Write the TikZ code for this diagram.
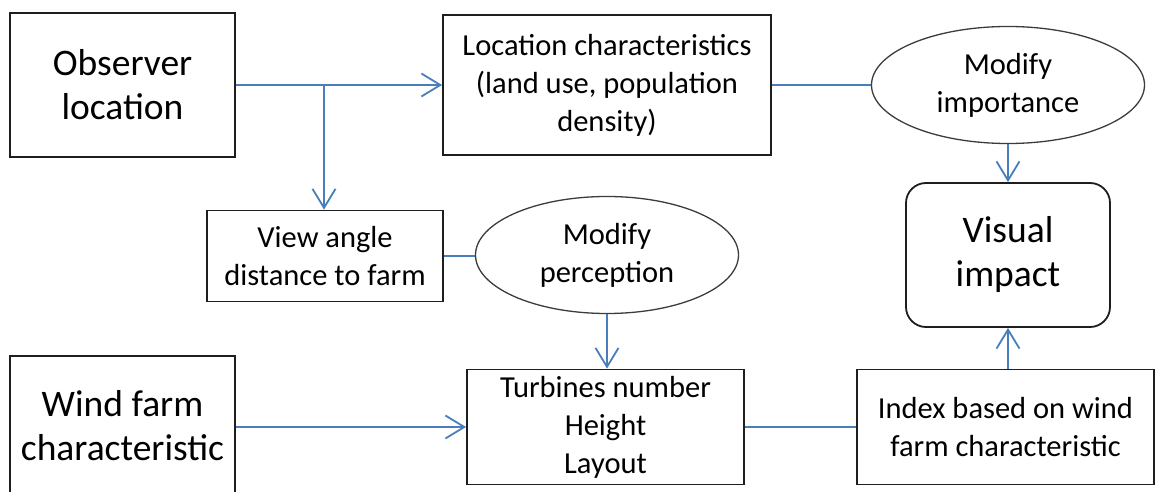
\documentclass[tikz,border=0pt]{standalone}
\usepackage{fontspec}
\setmainfont{Carlito}
\usetikzlibrary{arrows.meta,shapes.geometric}
\definecolor{linkblue}{HTML}{4A7EBB}
\definecolor{boxline}{HTML}{1E1E1E}
\definecolor{ovalline}{HTML}{3C3C3C}
\tikzset{
  bigtext/.style={font=\fontsize{37.5}{44}\selectfont},
  midtext/.style={font=\fontsize{30.5}{38}\selectfont},
  block/.style={draw=boxline, line width=1.8pt, rectangle, inner sep=0pt, align=center},
  rblock/.style={block, rounded corners=20pt},
  oval/.style={draw=ovalline, line width=1.3pt, ellipse, inner sep=0pt, align=center},
  link/.style={draw=linkblue, line width=1.8pt},
  flow/.style={link, -{Straight Barb[length=19pt,width=23pt]}},
}
\begin{document}
\begin{tikzpicture}[x=1pt,y=-1pt]
\useasboundingbox (0,0) rectangle (1157,492);
\clip (0,0) rectangle (1157,492);

% observer side
\node[block,bigtext,minimum width=225pt,minimum height=144pt] (obs) at (122.5,85) {Observer\\location};
\node[block,midtext,minimum width=328pt,minimum height=140pt] (loc) at (607,85) {Location characteristics\\(land use, population\\density)};
\node[oval,midtext,minimum width=273pt,minimum height=117pt] (imp) at (1008,85) {Modify\\importance};
\node[block,midtext,minimum width=236pt,minimum height=91pt] (view) at (325,256) {View angle\\distance to farm};
\node[oval,midtext,minimum width=263pt,minimum height=117pt] (perc) at (607,255) {Modify\\perception};
\node[rblock,bigtext,minimum width=204pt,minimum height=144pt] (vis) at (1008,255) {Visual\\impact};

% wind farm side (box runs past the lower edge)
\node[block,minimum width=225pt,minimum height=174pt] (wind) at (122.5,443) {};
\node[bigtext,align=center,inner sep=0pt] (windtxt) at (122.5,426) {Wind farm\\characteristic};
\node[block,midtext,minimum width=277pt,minimum height=115pt] (turb) at (605.5,427) {Turbines number\\Height\\Layout};
\node[block,midtext,minimum width=297pt,minimum height=115pt] (idx) at (1005.5,427) {Index based on wind\\farm characteristic};

% connectors
\coordinate (split) at (324,85);
\draw[flow] (obs.east) -- (loc.west);
\draw[flow] (split) -- (split |- view.north);
\draw[link] (loc.east) -- (loc.east -| imp.west);
\draw[flow] (imp.south) -- (imp.south |- vis.north);
\draw[link] (view.east) -- (view.east -| perc.west);
\draw[flow] (perc.south) -- (perc.south |- turb.north);
\draw[flow] (wind.east |- turb.west) -- (turb.west);
\draw[link] (turb.east) -- (idx.west);
\draw[flow] (vis.south |- idx.north) -- (vis.south);
\end{tikzpicture}
\end{document}
